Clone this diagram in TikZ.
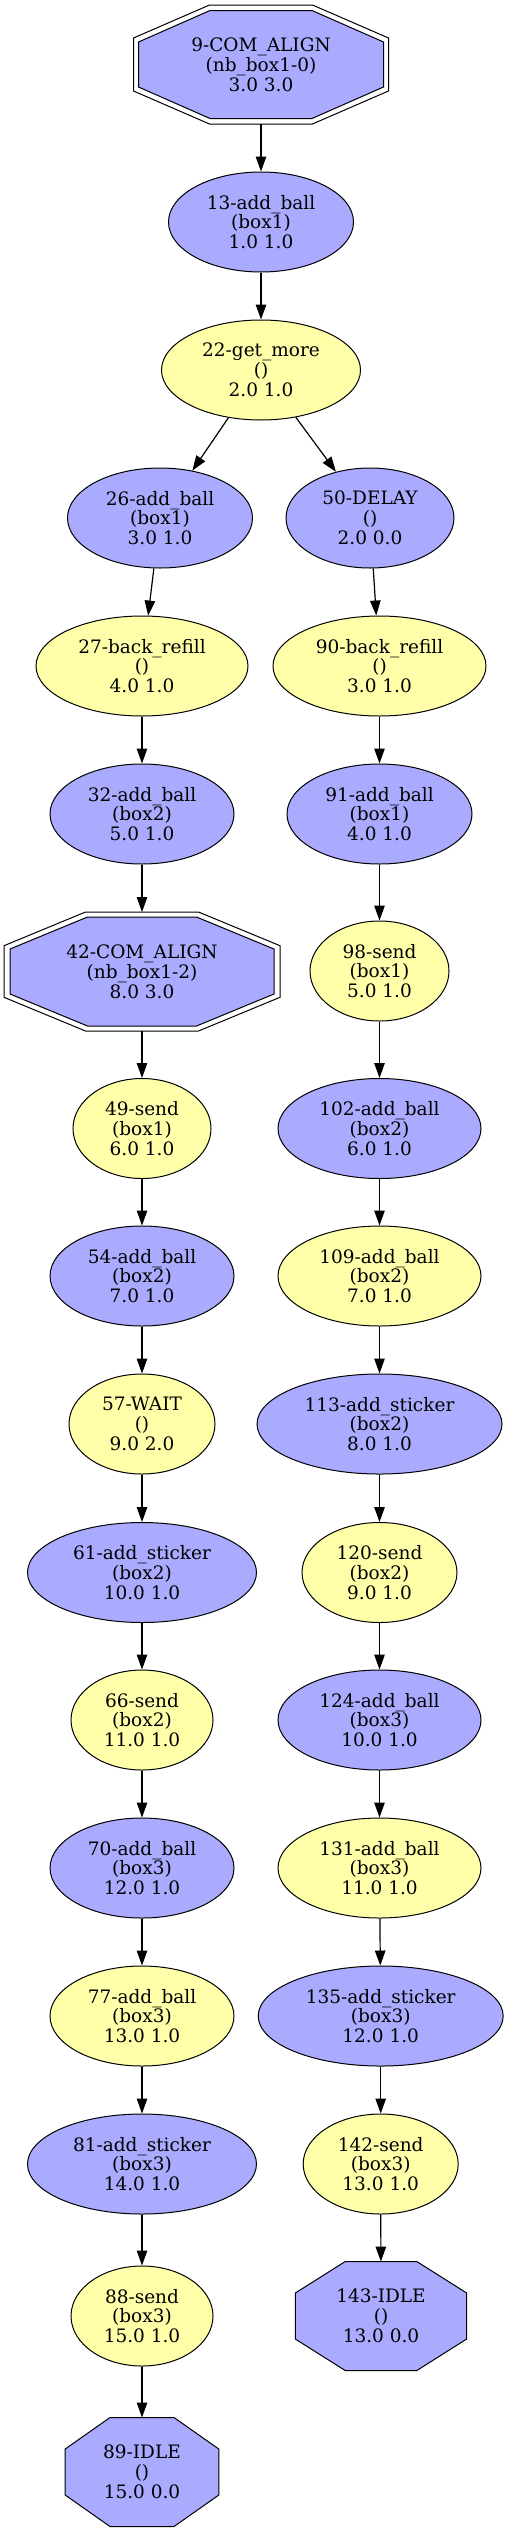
\documentclass[tikz,border=0pt]{standalone}
\usepackage{fontspec}
\usetikzlibrary{shapes.geometric,arrows.meta}
\newfontfamily\dvs{DejaVu Serif}
\definecolor{nblue}{HTML}{AAAAFF}
\definecolor{nyellow}{HTML}{FFFFAA}
\newcommand{\octpath}[7]{%
  \path[#7, shift={(#1,#2)}] (-#5,-#4) -- (#5,-#4) -- (#3,-#6) -- (#3,#6) -- (#5,#4) -- (-#5,#4) -- (-#3,#6) -- (-#3,-#6) -- cycle;}
\tikzset{
  lbl/.style={font=\dvs\fontsize{18.5}{19.8}\selectfont, align=center, inner sep=0pt, text=black},
  ebase/.style={lbl, draw=black, line width=1pt, ellipse, minimum height=100pt},
  bl/.style={ebase, fill=nblue},
  yl/.style={ebase, fill=nyellow},
  octbox/.style={lbl, draw=none, rectangle, outer sep=0pt},
  octline/.style={draw=black, line width=1pt},
  edge/.style={-{Triangle[length=15pt,width=10.5pt]}, line width=1.2pt, draw=black}
}
\begin{document}
\begin{tikzpicture}[x=1pt,y=-1pt]
\useasboundingbox (0,0) rectangle (509,2532);
% octagon shapes
\octpath{261}{64.5}{127.5}{59.5}{51.5}{26.5}{octline, fill=white}
\octpath{261}{64.5}{122.5}{54}{51}{22.5}{octline, fill=nblue}
\octpath{142}{971.5}{138}{59.5}{56.5}{25.8}{octline, fill=white}
\octpath{142}{971.5}{132}{54.5}{54.5}{22.5}{octline, fill=nblue}
\octpath{381}{2316}{85.7}{54.5}{35.8}{23}{octline, fill=nblue}
\octpath{142}{2472}{76.8}{54.5}{32}{23}{octline, fill=nblue}
% octagon labels
\node[octbox, minimum width=255pt, minimum height=119pt] (n9) at (261,64.5) {9-COM\_ALIGN\\(nb\_box1-0)\\3.0 3.0};
\node[octbox, minimum width=276pt, minimum height=119pt] (n42) at (142,971.5) {42-COM\_ALIGN\\(nb\_box1-2)\\8.0 3.0};
\node[octbox, minimum width=171.4pt, minimum height=109pt] (n143) at (381,2316) {143-IDLE\\()\\13.0 0.0};
\node[octbox, minimum width=153.6pt, minimum height=109pt] (n89) at (142,2472) {89-IDLE\\()\\15.0 0.0};
% ellipses
\node[bl, minimum width=185pt] (n13) at (261,222) {13-add\_ball\\(box1)\\1.0 1.0};
\node[yl, minimum width=199pt] (n22) at (261,370) {22-get\_more\\()\\2.0 1.0};
\node[bl, minimum width=185pt] (n26) at (160,518) {26-add\_ball\\(box1)\\3.0 1.0};
\node[bl, minimum width=168pt] (n50) at (370,518) {50-DELAY\\()\\2.0 0.0};
\node[yl, minimum width=212pt] (n27) at (142,666) {27-back\_refill\\()\\4.0 1.0};
\node[yl, minimum width=213pt] (n90) at (379.5,666) {90-back\_refill\\()\\3.0 1.0};
\node[bl, minimum width=184pt] (n32) at (142,814) {32-add\_ball\\(box2)\\5.0 1.0};
\node[bl, minimum width=185pt] (n91) at (379.5,814) {91-add\_ball\\(box1)\\4.0 1.0};
\node[yl, minimum width=139pt] (n98) at (379.5,971) {98-send\\(box1)\\5.0 1.0};
\node[yl, minimum width=138pt] (n49) at (142,1128.5) {49-send\\(box1)\\6.0 1.0};
\node[bl, minimum width=203pt] (n102) at (379.5,1128.5) {102-add\_ball\\(box2)\\6.0 1.0};
\node[bl, minimum width=184pt] (n54) at (142,1276) {54-add\_ball\\(box2)\\7.0 1.0};
\node[yl, minimum width=203pt] (n109) at (379.5,1276) {109-add\_ball\\(box2)\\7.0 1.0};
\node[yl, minimum width=146pt] (n57) at (142,1424) {57-WAIT\\()\\9.0 2.0};
\node[bl, minimum width=245pt] (n113) at (379.5,1424) {113-add\_sticker\\(box2)\\8.0 1.0};
\node[bl, minimum width=229pt] (n61) at (142,1572.5) {61-add\_sticker\\(box2)\\10.0 1.0};
\node[yl, minimum width=155pt] (n120) at (379.5,1572.5) {120-send\\(box2)\\9.0 1.0};
\node[yl, minimum width=142pt] (n66) at (142,1720) {66-send\\(box2)\\11.0 1.0};
\node[bl, minimum width=203pt] (n124) at (379.5,1720) {124-add\_ball\\(box3)\\10.0 1.0};
\node[bl, minimum width=184pt] (n70) at (142,1868) {70-add\_ball\\(box3)\\12.0 1.0};
\node[yl, minimum width=203pt] (n131) at (379.5,1868) {131-add\_ball\\(box3)\\11.0 1.0};
\node[yl, minimum width=184pt] (n77) at (142,2016) {77-add\_ball\\(box3)\\13.0 1.0};
\node[bl, minimum width=245pt] (n135) at (380.7,2016) {135-add\_sticker\\(box3)\\12.0 1.0};
\node[bl, minimum width=229pt] (n81) at (142,2164) {81-add\_sticker\\(box3)\\14.0 1.0};
\node[yl, minimum width=155pt] (n142) at (380.7,2164) {142-send\\(box3)\\13.0 1.0};
\node[yl, minimum width=142pt] (n88) at (142,2316) {88-send\\(box3)\\15.0 1.0};
% edges
\draw[edge] (n9) -- (n13);
\draw[edge] (n13) -- (n22);
\draw[edge] (n22) -- (n26);
\draw[edge] (n22) -- (n50);
\draw[edge] (n26) -- (n27);
\draw[edge] (n27) -- (n32);
\draw[edge] (n32) -- (n42);
\draw[edge] (n42) -- (n49);
\draw[edge] (n49) -- (n54);
\draw[edge] (n54) -- (n57);
\draw[edge] (n57) -- (n61);
\draw[edge] (n61) -- (n66);
\draw[edge] (n66) -- (n70);
\draw[edge] (n70) -- (n77);
\draw[edge] (n77) -- (n81);
\draw[edge] (n81) -- (n88);
\draw[edge] (n88) -- (n89);
\draw[edge] (n50) -- (n90);
\draw[edge] (n90) -- (n91);
\draw[edge] (n91) -- (n98);
\draw[edge] (n98) -- (n102);
\draw[edge] (n102) -- (n109);
\draw[edge] (n109) -- (n113);
\draw[edge] (n113) -- (n120);
\draw[edge] (n120) -- (n124);
\draw[edge] (n124) -- (n131);
\draw[edge] (n131) -- (n135);
\draw[edge] (n135) -- (n142);
\draw[edge] (n142) -- (n143);
\end{tikzpicture}
\end{document}
